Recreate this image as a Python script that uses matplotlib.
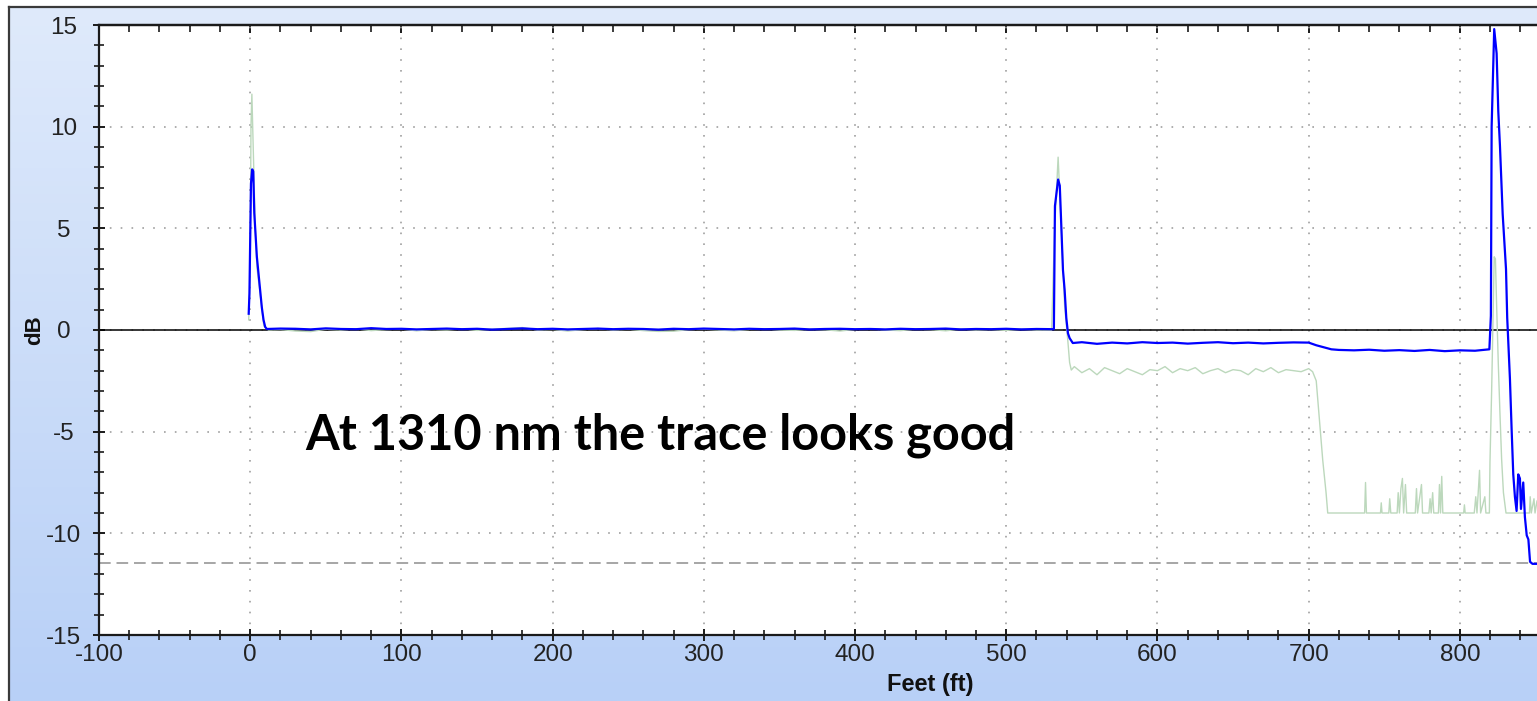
import numpy as np
import matplotlib
matplotlib.use('Agg')
import matplotlib.pyplot as plt
from matplotlib.ticker import MultipleLocator

plt.rcParams['axes.unicode_minus'] = False

####################
# DATA
####################

# 1310 nm trace (blue), distance in feet / level in dB
blue_ft = [-1, -0.5, 0.5, 1.3, 2.0, 2.7, 4.4, 6.1, 7.7, 8.8, 9.9, 11,
           20, 30, 40, 50, 60, 70, 80, 90, 100, 110, 120, 130, 140, 150,
           160, 170, 180, 190, 200, 210, 220, 230, 240, 250, 260, 270, 280,
           290, 300, 310, 320, 330, 340, 350, 360, 370, 380, 390, 400, 410,
           420, 430, 440, 450, 460, 470, 480, 490, 500, 510, 520, 531.5,
           532.2, 534.3, 535.4, 536.5, 537.5, 538.6, 539.7, 540.8, 541.9, 544,
           550, 560, 570, 580, 590, 600, 610, 620, 630, 640, 650, 660, 670,
           680, 690, 700, 705, 710, 715, 720, 730, 740, 750, 760, 770, 780,
           790, 800, 810, 819.5,
           820.5, 821, 822.7, 824.3, 825.4, 826.5, 828.3, 830.5, 831.3, 833.1,
           834.2, 835.3, 836.4, 837.5, 838.6, 839.7, 840.4, 841.9, 843, 844.2,
           845.3, 846.4, 848, 855]
blue_db = [0.8, 1.8, 7.2, 7.9, 7.8, 5.75, 3.6, 2.3, 1.1, 0.5, 0.15, 0.05,
           0.07, 0.06, 0.03, 0.08, 0.05, 0.04, 0.09, 0.05, 0.06, 0.03, 0.05,
           0.07, 0.04, 0.06, 0.02, 0.05, 0.08, 0.04, 0.06, 0.03, 0.05, 0.07,
           0.04, 0.06, 0.05, 0.02, 0.06, 0.04, 0.07, 0.05, 0.03, 0.06, 0.04,
           0.05, 0.07, 0.03, 0.05, 0.06, 0.04, 0.05, 0.03, 0.06, 0.04, 0.05,
           0.07, 0.03, 0.05, 0.04, 0.06, 0.03, 0.05, 0.04,
           6.1, 7.4, 7.1, 4.9, 2.95, 1.97, 0.6, -0.16, -0.4, -0.64,
           -0.6, -0.68, -0.62, -0.66, -0.6, -0.64, -0.62, -0.67, -0.63, -0.6,
           -0.65, -0.62, -0.66, -0.63, -0.61, -0.62, -0.75, -0.85, -0.95,
           -0.98, -1.0, -0.97, -1.02, -0.99, -1.03, -0.98, -1.04, -1.0, -1.02,
           -0.95,
           0.7, 10, 14.8, 13.6, 10.75, 9.06, 5.7, 3.0, 0.6, -2.4,
           -4.85, -7.1, -8.2, -8.9, -7.1, -7.3, -8.8, -7.5, -9.2, -10.1,
           -10.3, -11.4, -11.5, -11.5]

# Second wavelength trace (faint green)
green_ft = [-1, 0, 0.5, 1.1, 2.2, 3.3, 4.4, 7, 9, 12,
            20, 30, 40, 50, 60, 70, 80, 90, 100, 110, 120, 130, 140, 150,
            160, 170, 180, 190, 200, 210, 220, 230, 240, 250, 260, 270, 280,
            290, 300, 310, 320, 330, 340, 350, 360, 370, 380, 390, 400, 410,
            420, 430, 440, 450, 460, 470, 480, 490, 500, 510, 520, 530,
            532, 534.3, 536.5, 538.6, 540.8, 541.9, 543,
            545, 550, 555, 560, 565, 570, 575, 580, 585, 590, 595, 600, 605,
            610, 615, 620, 625, 630, 635, 640, 645, 650, 655, 660, 665, 670,
            675, 680, 685, 690, 695, 700, 702.6,
            705, 707, 709.3, 711.5, 712.6,
            737, 737.6, 738.2, 747.5, 748, 748.5, 753, 753.6, 754.3,
            758.5, 759.2, 760, 761, 762, 762.8, 764, 764.8,
            770.5, 771.3, 772, 774.6, 775.3, 779.5, 780.3, 781, 782, 782.7,
            785.8, 786.5, 787.2, 788, 788.7, 802.5, 803, 803.5,
            809.5, 810.5, 811.3, 813, 813.7, 816.5, 817.2,
            819.5, 819.9, 821, 822.7, 823.5, 824.3, 825.4, 826.5, 827.6, 828.8,
            830.5, 846, 846.5, 847.2, 849, 849.7, 851, 852, 855]
green_db = [0.5, 3, 10, 11.6, 8.4, 5.1, 3.1, 1.5, 0.2, 0.0,
            0.02, -0.05, -0.08, 0.04, 0.0, 0.06, -0.03, 0.02, 0.05, -0.04,
            0.03, 0.0, 0.06, -0.02, 0.04, 0.08, 0.12, 0.0, 0.03, -0.05, 0.02,
            0.07, 0.0, 0.04, -0.03, -0.07, -0.06, 0.02, 0.05, 0.0, -0.04,
            0.03, 0.06, 0.0, -0.02, 0.04, 0.01, -0.05, 0.03, 0.06, 0.0,
            -0.03, 0.04, 0.02, -0.04, 0.05, 0.0, 0.03, -0.02, 0.04, 0.0, 0.0,
            5, 8.5, 4.9, 1.2, -0.6, -1.6, -1.97,
            -1.8, -2.1, -1.9, -2.2, -1.85, -2.0, -2.15, -1.9, -2.05, -2.2,
            -1.95, -2.0, -1.8, -2.1, -1.9, -2.0, -1.85, -2.15, -2.0, -1.9,
            -2.1, -1.95, -2.0, -2.2, -1.9, -2.05, -1.85, -2.1, -1.95, -2.0,
            -2.05, -1.9, -2.05,
            -2.5, -4.3, -6.4, -8.0, -9.0,
            -9, -7.5, -9, -9, -8.5, -9, -9, -8.3, -9,
            -9, -8.0, -9, -7.8, -7.3, -9, -7.6, -9,
            -9, -7.8, -9, -7.6, -9, -9, -8.3, -9, -8.0, -9,
            -9, -7.6, -9, -7.2, -9, -9, -8.6, -9,
            -9, -8.2, -9, -6.9, -9, -8.2, -9,
            -9, -6.5, -3, 3.6, 3.5, 1.2, -1.65, -4.1, -6.35, -8.0,
            -9.0, -9, -8.2, -9, -8.3, -9, -8.4, -9, -9]

# Reference levels
zero_level = 0
floor_level = -11.46

# Axis ticks
x_major = [-100, 0, 100, 200, 300, 400, 500, 600, 700, 800]
y_major = [-15, -10, -5, 0, 5, 10, 15]

note = 'At 1310 nm the trace looks good'

####################
# FIGURE
####################

W, H = 1537, 701
fig = plt.figure(figsize=(W / 100, H / 100), dpi=100, facecolor='white')

# Gradient panel behind the chart (screenshot style)
bg = fig.add_axes([9 / W, 0, 1 - 9 / W, 1 - 7 / H], zorder=0)
grad = np.linspace(0, 1, 256).reshape(-1, 1)
top_c = np.array([0xdf, 0xea, 0xfb]) / 255
bot_c = np.array([0xb8, 0xd0, 0xf7]) / 255
img = top_c[None, None, :] * (1 - grad[:, :, None]) + bot_c[None, None, :] * grad[:, :, None]
bg.imshow(img, aspect='auto', extent=[0, 1, 0, 1])
bg.set_xlim(0, 1)
bg.set_ylim(0, 1)
bg.set_axis_off()
fig.add_artist(plt.Line2D([9 / W, 9 / W], [0, 1 - 7 / H], color='#3a3a3a', lw=1.6))
fig.add_artist(plt.Line2D([9 / W, 1], [1 - 7 / H, 1 - 7 / H], color='#3a3a3a', lw=1.6))

ax = fig.add_axes([99 / W, 1 - 635 / H, 1 - 99 / W, (635 - 25) / H], zorder=2)
ax.set_facecolor('white')

# Traces
ax.plot(green_ft, green_db, color='#bcd8bc', lw=1.0, zorder=3)
ax.plot(blue_ft, blue_db, color='#0000ff', lw=1.6, zorder=4)

# Reference lines
ax.axhline(zero_level, color='black', lw=1.1, zorder=2.5)
ax.axhline(floor_level, color='#a6a6a6', lw=1.4, ls=(0, (6, 3)), zorder=2.5)

ax.set_xlim(-100, 851)
ax.set_ylim(-15, 15)

# Grid
ax.set_xticks(x_major)
ax.set_yticks(y_major)
ax.xaxis.set_minor_locator(MultipleLocator(20))
ax.yaxis.set_minor_locator(MultipleLocator(1))
ax.grid(True, which='major', color='#a0a0a0', lw=1.2, ls=(0, (1, 5.5)))
ax.set_axisbelow(True)

# Spines / ticks
for side in ['left', 'bottom', 'top']:
    ax.spines[side].set_linewidth(1.6)
    ax.spines[side].set_color('#1a1a1a')
ax.spines['right'].set_visible(False)

ax.tick_params(which='major', direction='inout', length=9, width=1.4,
               color='#1a1a1a', labelsize=17.5, labelcolor='#222222')
ax.tick_params(which='minor', direction='inout', length=7, width=1.2,
               color='#1a1a1a')
ax.tick_params(axis='x', which='major', pad=2)
ax.tick_params(axis='y', which='major', pad=21)
for lab in ax.get_xticklabels() + ax.get_yticklabels():
    lab.set_fontfamily('Liberation Sans')
for lab in ax.get_yticklabels():
    lab.set_horizontalalignment('center')

top = ax.secondary_xaxis('top')
top.set_xticks(x_major)
top.xaxis.set_minor_locator(MultipleLocator(20))
top.tick_params(which='major', direction='in', length=6, width=1.4,
                color='#1a1a1a', labeltop=False)
top.tick_params(which='minor', direction='in', length=5, width=1.2,
                color='#1a1a1a')
top.spines['top'].set_linewidth(1.6)

# Labels
ax.set_xlabel('Feet (ft)', fontfamily='Liberation Sans', fontweight='bold',
              fontsize=17, color='#111111')
ax.xaxis.set_label_coords((930 - 99) / (W - 99), -(685 - 635) / (635 - 25))
ax.set_ylabel('dB', fontfamily='Liberation Sans', fontweight='bold',
              fontsize=16, color='#111111')
ax.yaxis.set_label_coords(-(99 - 35) / (W - 99), (635 - 330) / (635 - 25))
for lbl in [ax.xaxis.label, ax.yaxis.label]:
    lbl.set_verticalalignment('center')

# Annotation
ax.text(271, -5.2, note, ha='center', va='center', fontfamily='Lato',
        fontweight='bold', fontsize=35, color='black', zorder=6)

fig.savefig('out.png', dpi=100, facecolor='white')
